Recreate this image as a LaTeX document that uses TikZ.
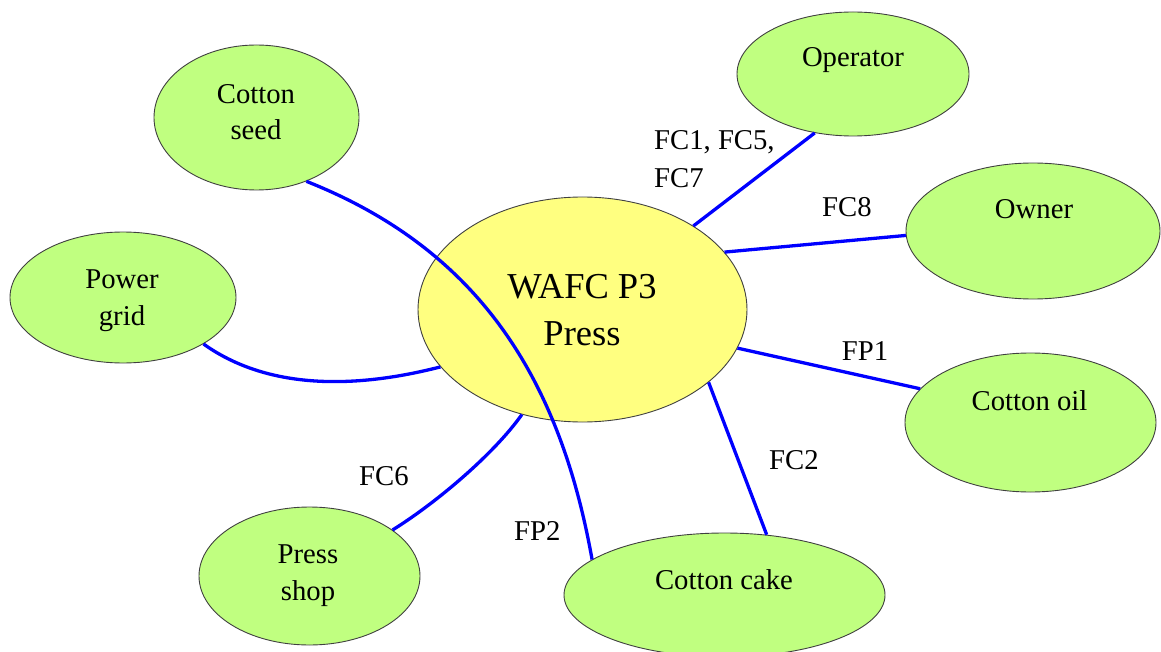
\documentclass[tikz,border=0pt]{standalone}
\usepackage{fontspec}
\setmainfont{Liberation Serif}
\usetikzlibrary{shapes.geometric}
\definecolor{leaf}{RGB}{192,255,128}
\definecolor{hub}{RGB}{255,255,128}
\definecolor{wire}{RGB}{0,0,255}
\tikzset{
  party/.style={ellipse, draw=black!75, line width=0.9pt, fill=leaf, inner sep=0pt},
  core/.style={party, fill=hub},
  txt/.style={anchor=base, inner sep=0pt, font=\fontsize{28.7}{37}\selectfont},
  big/.style={txt, font=\fontsize{36.5}{47}\selectfont},
  tag/.style={txt, anchor=base west},
  link/.style={draw=wire, line width=3.3pt}
}
\begin{document}
\begin{tikzpicture}[x=1pt, y=-1pt]
  \useasboundingbox (0,0) rectangle (1161,652);

  % stakeholders around the press
  \node[party, minimum width=205pt, minimum height=145pt] (seed) at (256.5,117.5) {};
  \node[party, minimum width=232pt, minimum height=124pt] (operator) at (853,74) {};
  \node[party, minimum width=254pt, minimum height=136pt] (owner) at (1033,231) {};
  \node[party, minimum width=226pt, minimum height=131pt] (grid) at (123,297.5) {};
  \node[core,  minimum width=329pt, minimum height=225pt] (press) at (582.5,309.5) {};
  \node[party, minimum width=251pt, minimum height=139pt] (oil) at (1030.5,422.5) {};
  \node[party, minimum width=221pt, minimum height=138pt] (shop) at (309.5,576) {};
  \node[party, minimum width=321pt, minimum height=124pt] (cake) at (724.5,595) {};

  % names inside the ellipses
  \node[txt] (seedA) at (256,103.3) {Cotton};
  \node[txt] (seedB) at (256,139.3) {seed};
  \node[txt] (operatorA) at (853,67) {Operator};
  \node[txt] (ownerA) at (1034,218.3) {Owner};
  \node[txt] (gridA) at (122,288) {Power};
  \node[txt] (gridB) at (122,325) {grid};
  \node[big] (pressA) at (582,298.3) {WAFC P3};
  \node[big] (pressB) at (582,345) {Press};
  \node[txt] (oilA) at (1029.5,410) {Cotton oil};
  \node[txt] (shopA) at (308,563.3) {Press};
  \node[txt] (shopB) at (308,600) {shop};
  \node[txt] (cakeA) at (724,589) {Cotton cake};

  % flows
  \draw[link] (press.37.4) -- (operator.237.2);
  \draw[link] (press.22.8) -- (owner.182.2);
  \draw[link] (press.-14.3) -- (oil.163.7);
  \draw[link] (press.-30.4) -- (cake.55.6);
  \draw[link] (grid.-30.6) .. controls (275,395) and (370,385) .. (press.202.75);
  \draw[link] (shop.29.9) .. controls (436,503) and (494,454) .. (press.240.3);
  \draw[link] (seed.-52.1) .. controls (480,250) and (560,380) .. (cake.165.1);

  % flow labels
  \node[tag] (fcA) at (654,150) {FC1, FC5,};
  \node[tag] (fcB) at (654,188) {FC7};
  \node[tag] (fc8) at (822,216.7) {FC8};
  \node[tag] (fp1) at (841.7,360) {FP1};
  \node[tag] (fc2) at (769,469) {FC2};
  \node[tag] (fc6) at (359,485) {FC6};
  \node[tag] (fp2) at (514,540.7) {FP2};
\end{tikzpicture}
\end{document}
